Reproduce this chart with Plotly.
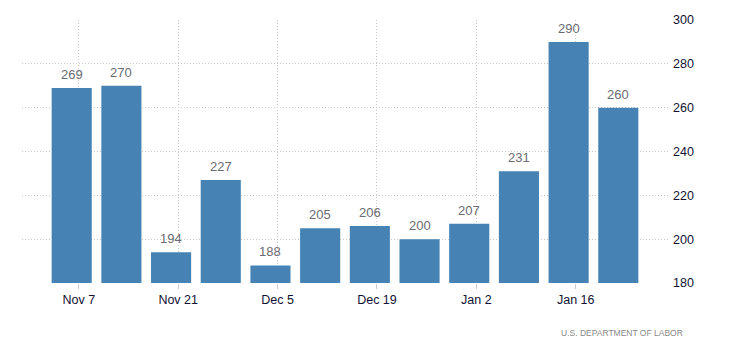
import plotly.graph_objects as go

# Weekly initial jobless claims (thousands), week ending dates
weeks = ["2021-11-06", "2021-11-13", "2021-11-20", "2021-11-27", "2021-12-04",
         "2021-12-11", "2021-12-18", "2021-12-25", "2022-01-01", "2022-01-08",
         "2022-01-15", "2022-01-22"]
claims = [269, 270, 194, 227, 188, 205, 206, 200, 207, 231, 290, 260]

tick_dates = ["2021-11-07", "2021-11-21", "2021-12-05", "2021-12-19", "2022-01-02", "2022-01-16"]
tick_labels = ["Nov 7", "Nov 21", "Dec 5", "Dec 19", "Jan 2", "Jan 16"]
y_ticks = [180, 200, 220, 240, 260, 280, 300]

DAY_MS = 86400000
FONT = "Liberation Sans, Arial"

fig = go.Figure(
    go.Bar(
        x=weeks,
        y=claims,
        width=5.65 * DAY_MS,
        marker=dict(color="#4682B4", line=dict(width=0)),
    )
)

# value labels above each bar
value_labels = [
    dict(
        x=d, y=v, xref="x", yref="y",
        text=str(v), showarrow=False,
        yanchor="bottom", yshift=4,
        font=dict(size=13, color="#6b6b72", family=FONT),
    )
    for d, v in zip(weeks, claims)
]

source = dict(
    text="U.S. DEPARTMENT OF LABOR",
    xref="paper", yref="paper",
    x=1.0, y=-0.165,
    xanchor="right", yanchor="top",
    showarrow=False,
    xshift=17,
    font=dict(size=8.5, color="#888888", family=FONT),
)

fig.update_layout(
    width=730,
    height=345,
    margin=dict(l=22, r=62, t=19.5, b=62),
    paper_bgcolor="white",
    plot_bgcolor="white",
    showlegend=False,
    font=dict(family=FONT, size=12, color="#222222"),
    xaxis=dict(
        type="date",
        range=["2021-10-30", "2022-01-29"],
        tickmode="array",
        tickvals=tick_dates,
        ticktext=tick_labels,
        showgrid=True,
        gridcolor="#c8c8c8",
        griddash="1px,2px",
        gridwidth=1,
        ticks="outside",
        ticklen=5,
        tickcolor="#cccccc",
        zeroline=False,
        showline=False,
        tickfont=dict(size=12.5, color="#111133"),
    ),
    yaxis=dict(
        side="right",
        range=[180, 300],
        tickmode="array",
        tickvals=y_ticks,
        showgrid=True,
        gridcolor="#c8c8c8",
        griddash="1px,2px",
        gridwidth=1,
        zeroline=False,
        showline=False,
        ticks="",
        ticklabelstandoff=4,
        tickfont=dict(size=12.5, color="#111133"),
    ),
    annotations=value_labels + [source],
)

fig.write_html("out.html")
